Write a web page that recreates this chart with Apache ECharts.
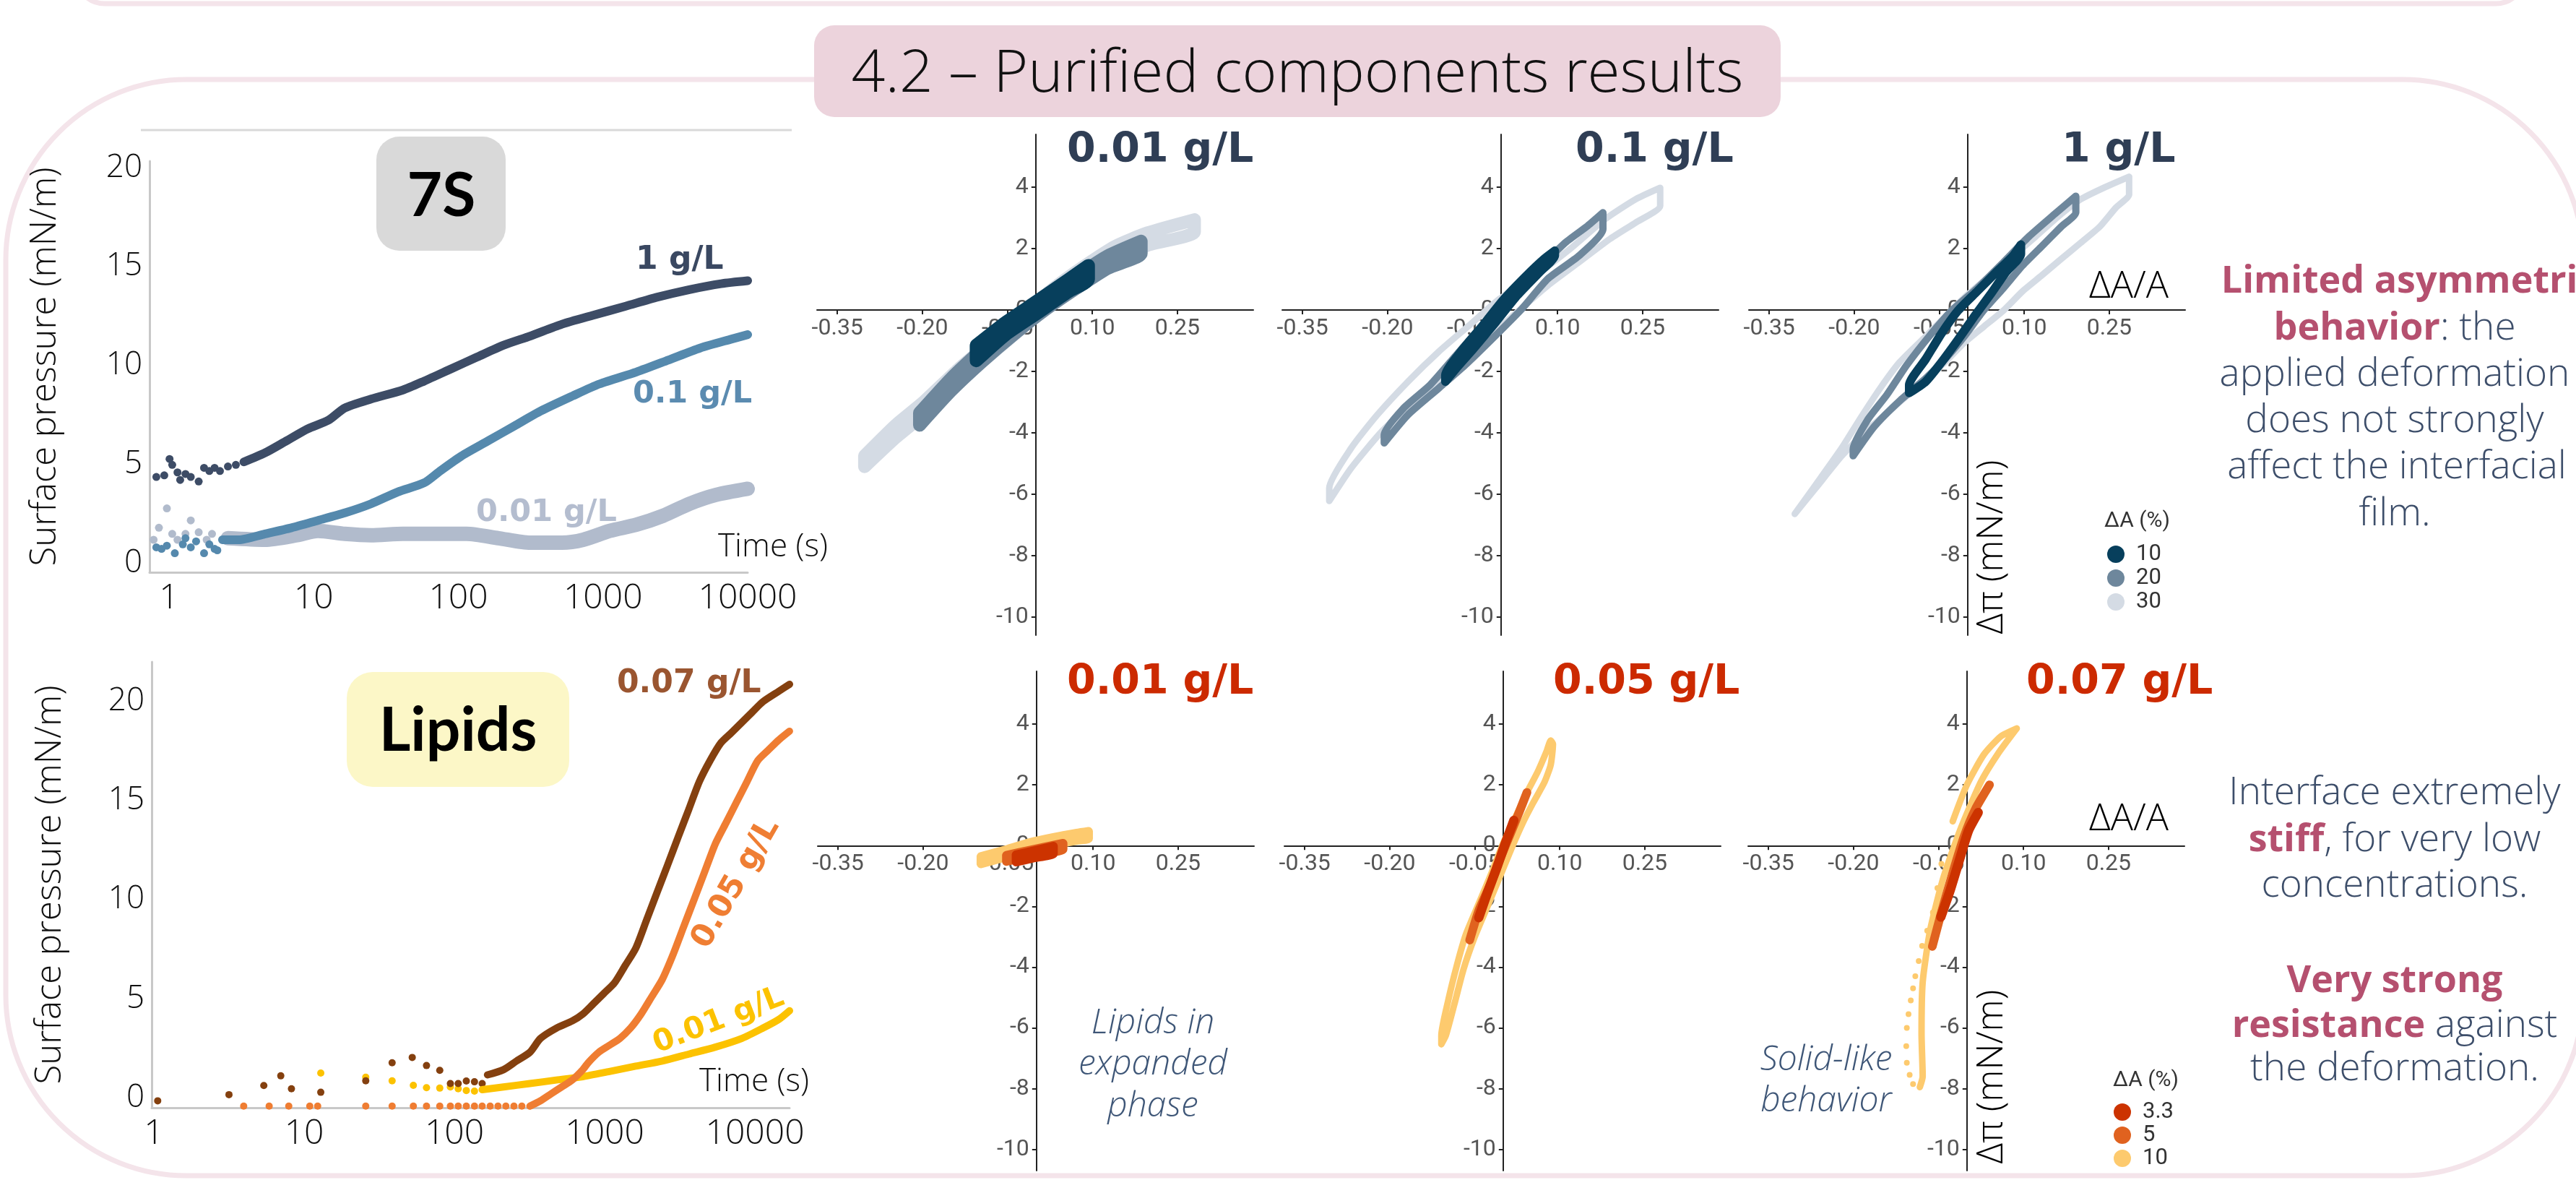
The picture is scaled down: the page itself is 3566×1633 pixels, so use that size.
<!DOCTYPE html>
<html><head><meta charset="utf-8">
<script src="https://cdn.jsdelivr.net/npm/echarts@6/dist/echarts.min.js"></script>
<style>html,body{margin:0;padding:0;background:#fff}#c{width:3566px;height:1633px}</style>
</head><body><div id="c"></div>
<script>
// ---------- tick labels ----------
const timeYTicks = [0, 5, 10, 15, 20];
const lisXTicks = [-0.35, -0.20, -0.05, 0.10, 0.25];
const lisYTicks = [-10, -8, -6, -4, -2, 0, 2, 4];

// ---------- 7S adsorption kinetics: [time (s), surface pressure (mN/m)] ----------
const s7_1g_early = [[0.817,4.35],[0.927,4.43],[1.008,5.26],[1.052,4.96],[1.144,4.58],[1.194,4.20],[1.299,4.50],[1.413,4.35],[1.603,4.12],[1.746,4.81],[1.899,4.65],[2.065,4.81],[2.249,4.65],[2.553,4.88],[2.897,4.96]];
const s7_1g = [[3.29,5.11],[4.61,5.57],[6.46,6.17],[9.06,6.78],[12.7,7.23],[16.4,7.84],[24.9,8.29],[41.4,8.75],[58.0,9.20],[88.5,9.81],[135,10.42],[206,11.02],[314,11.48],[521,12.08],[865,12.54],[1435,12.99],[2382,13.45],[3954,13.83],[6561,14.13],[10000,14.28]];
const s7_01g_early = [[0.817,0.79],[0.888,0.71],[0.966,0.87],[1.096,0.49],[1.245,0.94],[1.299,1.25],[1.413,0.79],[1.538,1.09],[1.746,0.49],[1.899,0.94],[2.065,0.71],[2.156,0.64]];
const s7_01g = [[2.34,1.17],[3.02,1.17],[4.61,1.47],[7.03,1.78],[10.7,2.15],[16.4,2.53],[24.9,2.99],[38.1,3.59],[58.0,4.05],[74.7,4.65],[105,5.41],[160,6.17],[244,6.93],[372,7.69],[617,8.45],[942,9.05],[1700,9.66],[2822,10.26],[4684,10.87],[7773,11.33],[10000,11.55]];
const s7_001g_early = [[0.782,1.17],[0.851,1.78],[0.966,2.76],[1.052,1.47],[1.144,1.17],[1.299,1.47],[1.413,2.15],[1.603,1.55],[1.820,1.17],[1.982,1.47]];
const s7_001g = [[2.55,1.25],[4.61,1.17],[7.65,1.40],[10.7,1.62],[16.4,1.47],[24.9,1.40],[41.4,1.47],[68.7,1.47],[114,1.47],[189,1.25],[314,1.02],[521,1.02],[730,1.17],[1114,1.62],[1700,1.93],[2594,2.38],[3954,2.99],[6034,3.44],[10000,3.75]];

// ---------- Lipids adsorption kinetics ----------
const lip07_early = [[1.06,-0.16],[3.16,0.15],[5.39,0.61],[6.99,1.10],[8.23,0.45],[12.9,0.27],[25.7,0.85],[38.5,1.76],[52.4,2.03],[65.2,1.62],[79.9,1.38],[94.0,0.71],[106,0.71],[120,0.84],[136,0.80],[153,0.71]];
const lip07 = [[166,1.15],[212,1.41],[259,1.85],[318,2.29],[374,2.99],[477,3.51],[608,3.87],[715,4.22],[841,4.74],[990,5.27],[1164,5.80],[1370,6.67],[1611,7.55],[1896,8.95],[2230,10.35],[2624,11.75],[3086,13.16],[3631,14.56],[4270,15.96],[5024,17.01],[5907,17.89],[6950,18.41],[8175,18.94],[9615,19.47],[11300,19.99],[14420,20.52],[17000,20.87]];
const lip05_early = [[3.96,-0.43],[5.85,-0.43],[7.90,-0.43],[10.9,-0.43],[12.3,-0.43],[25.7,-0.43],[38.5,-0.43],[53.3,-0.43],[65.2,-0.43],[79.9,-0.43],[94,-0.43],[106,-0.43],[120,-0.43],[136,-0.43],[153,-0.43],[173,-0.43],[195,-0.43],[220,-0.43],[249,-0.43],[281,-0.43]];
const lip05 = [[318,-0.43],[374,-0.16],[439,0.19],[517,0.54],[608,0.89],[715,1.41],[776,1.76],[913,2.29],[1074,2.64],[1263,2.99],[1486,3.51],[1747,4.22],[2055,5.09],[2418,5.97],[2844,7.20],[3344,8.60],[3935,10.00],[4628,11.40],[5445,12.81],[6407,13.86],[7536,14.91],[8869,15.96],[10430,17.01],[12250,17.54],[14420,18.06],[16980,18.50]];
const lip01_early = [[12.9,1.24],[25.7,1.03],[38.5,0.85],[53.3,0.62],[65.2,0.50],[79.9,0.48],[94,0.54],[106,0.45],[120,0.36],[136,0.33]];
const lip01 = [[153,0.40],[212,0.54],[318,0.71],[477,0.89],[715,1.06],[1074,1.32],[1611,1.59],[2418,1.85],[3631,2.20],[5445,2.55],[8175,2.99],[11300,3.51],[14420,3.95],[17000,4.39]];

// ---------- 7S Lissajous loops: [dA/A, dPi] ----------
const top1_30 = [[-0.302,-4.75],[-0.247,-3.75],[-0.198,-3.00],[-0.136,-1.92],[-0.080,-1.05],[-0.025,-0.19],[0.030,0.68],[0.086,1.43],[0.141,2.08],[0.197,2.51],[0.280,2.94],[0.280,2.54],[0.197,2.11],[0.141,1.68],[0.086,1.03],[0.030,0.28],[-0.025,-0.59],[-0.080,-1.45],[-0.136,-2.32],[-0.198,-3.40],[-0.247,-4.15],[-0.302,-5.10],[-0.302,-4.75]];
const top1_20 = [[-0.205,-3.35],[-0.150,-2.24],[-0.094,-1.27],[-0.039,-0.40],[0.017,0.41],[0.072,1.11],[0.127,1.76],[0.186,2.24],[0.186,1.84],[0.127,1.36],[0.072,0.71],[0.017,0.01],[-0.039,-0.80],[-0.094,-1.67],[-0.150,-2.64],[-0.205,-3.75],[-0.205,-3.35]];
const top1_10 = [[-0.105,-1.15],[-0.053,-0.40],[0.003,0.30],[0.058,1.00],[0.093,1.45],[0.093,1.00],[0.058,0.60],[0.003,-0.10],[-0.053,-0.80],[-0.105,-1.65],[-0.105,-1.15]];
const top2_30 = [[-0.303,-6.22],[-0.303,-5.80],[-0.264,-4.49],[-0.218,-3.41],[-0.164,-2.33],[-0.110,-1.36],[-0.056,-0.50],[-0.002,0.37],[0.060,1.12],[0.122,1.99],[0.184,2.96],[0.238,3.61],[0.281,3.98],[0.281,3.39],[0.238,2.85],[0.192,2.31],[0.138,1.56],[0.083,0.80],[0.029,-0.06],[-0.025,-0.93],[-0.087,-1.90],[-0.148,-2.87],[-0.210,-3.95],[-0.264,-5.14],[-0.303,-6.22]];
const top2_20 = [[-0.206,-4.33],[-0.206,-4.06],[-0.172,-3.20],[-0.125,-2.44],[-0.079,-1.47],[-0.032,-0.50],[0.014,0.37],[0.060,1.23],[0.114,2.20],[0.153,2.74],[0.180,3.17],[0.180,2.63],[0.138,1.77],[0.083,1.02],[0.037,0.04],[-0.009,-0.82],[-0.063,-1.79],[-0.110,-2.55],[-0.164,-3.41],[-0.206,-4.33]];
const top2_10 = [[-0.098,-2.33],[-0.098,-2.12],[-0.071,-1.36],[-0.032,-0.50],[0.006,0.37],[0.045,1.12],[0.076,1.66],[0.095,1.93],[0.095,1.77],[0.068,1.23],[0.029,0.48],[-0.009,-0.39],[-0.048,-1.25],[-0.079,-1.90],[-0.098,-2.33]];
const top3_30 = [[-0.305,-6.64],[-0.268,-5.69],[-0.222,-4.49],[-0.188,-3.49],[-0.154,-2.54],[-0.120,-1.70],[-0.074,-0.86],[-0.040,-0.23],[-0.006,0.40],[0.034,1.03],[0.074,1.66],[0.120,2.39],[0.159,3.03],[0.199,3.60],[0.239,3.97],[0.285,4.34],[0.285,3.76],[0.262,3.34],[0.233,2.71],[0.199,2.18],[0.165,1.66],[0.131,1.13],[0.097,0.61],[0.063,-0.02],[0.028,-0.55],[-0.006,-1.07],[-0.040,-1.70],[-0.085,-2.44],[-0.131,-3.17],[-0.177,-3.91],[-0.222,-4.75],[-0.268,-5.80],[-0.305,-6.64]];
const top3_20 = [[-0.202,-4.75],[-0.202,-4.54],[-0.177,-3.59],[-0.142,-2.75],[-0.108,-1.81],[-0.068,-0.86],[-0.028,-0.02],[0.017,0.71],[0.063,1.55],[0.108,2.39],[0.154,3.13],[0.191,3.71],[0.191,3.18],[0.165,2.71],[0.131,2.08],[0.097,1.45],[0.063,0.71],[0.028,-0.02],[-0.006,-0.86],[-0.040,-1.60],[-0.074,-2.23],[-0.120,-2.96],[-0.165,-3.80],[-0.202,-4.75]];
const top3_10 = [[-0.103,-2.70],[-0.103,-2.44],[-0.074,-1.60],[-0.046,-0.76],[-0.017,-0.02],[0.017,0.61],[0.051,1.24],[0.080,1.76],[0.094,2.13],[0.094,1.82],[0.068,1.24],[0.040,0.50],[0.011,-0.23],[-0.017,-0.97],[-0.046,-1.70],[-0.074,-2.33],[-0.103,-2.70]];

// ---------- Lipid Lissajous loops ----------
const bot1_10 = [[-0.098,-0.36],[-0.053,-0.13],[-0.012,0.10],[0.030,0.27],[0.071,0.41],[0.092,0.47],[0.092,0.23],[0.071,0.17],[0.030,0.03],[-0.012,-0.14],[-0.053,-0.37],[-0.098,-0.60],[-0.098,-0.36]];
const bot1_5 = [[-0.053,-0.32],[-0.012,-0.15],[0.047,0.08],[0.047,-0.12],[-0.012,-0.35],[-0.053,-0.52],[-0.053,-0.32]];
const bot1_33 = [[-0.036,-0.30],[-0.005,-0.17],[0.030,-0.02],[0.030,-0.26],[-0.005,-0.41],[-0.036,-0.54],[-0.036,-0.30]];
const bot2_10 = [[-0.109,-6.54],[-0.109,-6.25],[-0.097,-5.11],[-0.082,-3.97],[-0.066,-2.94],[-0.043,-1.91],[-0.020,-0.88],[-0.001,0.03],[0.022,0.95],[0.042,1.75],[0.061,2.43],[0.077,3.12],[0.084,3.46],[0.088,3.35],[0.084,2.66],[0.073,2.09],[0.053,1.41],[0.034,0.72],[0.015,-0.08],[-0.005,-0.99],[-0.028,-2.02],[-0.051,-3.05],[-0.070,-4.08],[-0.086,-5.22],[-0.101,-6.25],[-0.109,-6.54]];
const bot2_5 = [[-0.059,-3.11],[-0.043,-2.14],[-0.024,-1.34],[-0.005,-0.42],[0.015,0.49],[0.030,1.18],[0.042,1.75]];
const bot2_33 = [[-0.043,-2.37],[-0.028,-1.57],[-0.012,-0.77],[0.003,0.03],[0.019,0.83]];
const bot3_10_dense = [[-0.083,-7.95],[-0.078,-7.60],[-0.080,-6.20],[-0.078,-4.50],[-0.065,-2.80],[-0.042,-1.09],[-0.012,0.51],[0.025,2.11],[0.055,3.03],[0.088,3.86],[0.060,3.60],[0.030,3.00],[0.000,2.00],[-0.025,0.80]];
const bot3_10_sparse = [[-0.045,-0.60],[-0.052,-1.40],[-0.060,-2.20],[-0.070,-2.80],[-0.079,-3.30],[-0.085,-3.80],[-0.091,-4.30],[-0.095,-4.70],[-0.099,-5.10],[-0.103,-5.55],[-0.106,-6.00],[-0.107,-6.60],[-0.106,-7.15],[-0.101,-7.55],[-0.095,-7.85]];
const bot3_5 = [[-0.061,-3.32],[-0.045,-2.20],[-0.025,-0.90],[-0.005,0.30],[0.015,1.20],[0.040,2.00]];
const bot3_33 = [[-0.046,-2.35],[-0.030,-1.50],[-0.012,-0.40],[0.003,0.50],[0.020,1.09]];

// ---------- colours ----------
const C7 = {g1:'#3d4c66', g01:'#5589ad', g001:'#b1bbcc'};
const CL = {g07:'#84400f', g05:'#ef7d32', g01:'#fcc200'};
const CT = {p10:'#073f5c', p20:'#6e879c', p30:'#d4dbe4'};
const CB = {p33:'#cc3300', p5:'#e0621f', p10:'#fdca6e'};
const SANS = '"Open Sans", "Noto Sans", sans-serif';
const NARROW = '"Liberation Sans Narrow", "Roboto", sans-serif';
const BOLD = '"DejaVu Sans", sans-serif';

function fmtLog(v){ const l = Math.log10(v), r = Math.round(l); return Math.abs(l - r) < 1e-6 ? String(Math.round(Math.pow(10, r))) : ''; }

function timeX(i, min, max){
  return {type:'log', gridIndex:i, min, max, logBase:10,
    axisLine:{show:true, onZero:false, lineStyle:{color:'#c8c8c8', width:3}},
    axisTick:{show:false}, splitLine:{show:false},
    axisLabel:{formatter:fmtLog, fontFamily:SANS, fontWeight:300, fontSize:48, color:'#111', margin:12}};
}
function timeY(i, min, max, gap){
  return {type:'value', gridIndex:i, min, max,
    axisLine:{show:true, onZero:false, lineStyle:{color:'#c8c8c8', width:3}},
    axisTick:{show:false}, splitLine:{show:false},
    axisLabel:{customValues:timeYTicks, fontFamily:SANS, fontWeight:300, fontSize:44, color:'#111', margin:10},
    name:'Surface pressure (mN/m)', nameLocation:'middle', nameGap:gap, nameRotate:90,
    nameTextStyle:{fontFamily:SANS, fontWeight:300, fontSize:49, color:'#111'}};
}
// axes cross at zero: shift the axes (line, ticks and labels together) into the grid
function lisX(i, offset){
  return {type:'value', gridIndex:i, min:-0.386, max:0.384, position:'bottom', offset,
    axisLine:{show:true, onZero:false, lineStyle:{color:'#222', width:2}},
    axisTick:{show:true, customValues:lisXTicks, length:6, lineStyle:{color:'#222', width:2}},
    axisLabel:{customValues:lisXTicks, formatter:v=>v.toFixed(2), fontFamily:NARROW, fontSize:32, color:'#555', margin:10},
    splitLine:{show:false}};
}
function lisY(i, min, max){
  return {type:'value', gridIndex:i, min, max, position:'left', offset:-302.8,
    axisLine:{show:true, onZero:false, lineStyle:{color:'#222', width:2}},
    axisTick:{show:true, customValues:lisYTicks, length:6, lineStyle:{color:'#222', width:2}},
    axisLabel:{customValues:lisYTicks, formatter:v=>String(Math.round(v)), fontFamily:NARROW, fontSize:32, color:'#555', margin:10},
    splitLine:{show:false}};
}
function line(i, data, color, width, smooth){
  return {type:'line', xAxisIndex:i, yAxisIndex:i, data, showSymbol:false, symbol:'none', silent:true,
    smooth: smooth === undefined ? 0.25 : smooth, lineStyle:{color, width, join:'round', cap:'round'}};
}
function dots(i, data, color, size){
  return {type:'scatter', xAxisIndex:i, yAxisIndex:i, data, symbolSize:size, silent:true, itemStyle:{color, opacity:1}};
}
function T(text, x, y, o){
  o = o || {};
  const el = {type:'text', x, y, z:50, silent:true, style:{text, fill:o.color || '#111',
    font:(o.style || 'normal') + ' ' + (o.weight || 400) + ' ' + (o.size || 40) + 'px ' + (o.family || SANS),
    align:o.align || 'left', verticalAlign:'middle', textAlign:o.align || 'left', textVerticalAlign:'middle'}};
  if (o.rotation) el.rotation = o.rotation;
  if (o.rich) el.style.rich = o.rich;
  return el;
}

const grids = [
  {left:207, top:223, width:828, height:569},
  {left:210, top:916, width:883, height:617},
  {left:1131, top:186, width:604, height:693},
  {left:1775, top:186, width:604, height:693},
  {left:2421, top:186, width:604, height:693},
  {left:1132, top:929, width:604, height:691},
  {left:1778, top:929, width:604, height:691},
  {left:2420, top:929, width:604, height:691}
];

const xAxes = [timeX(0, 0.733, 10000), timeX(1, 0.967, 17000),
  lisX(2, -450), lisX(3, -450), lisX(4, -450), lisX(5, -449.7), lisX(6, -449.7), lisX(7, -449.7)];
const yAxes = [timeY(0, -0.475, 20.33, 119), timeY(1, -0.51, 22.0, 115),
  lisY(2, -10.59, 5.72), lisY(3, -10.59, 5.72), lisY(4, -10.59, 5.72),
  lisY(5, -10.7, 5.74), lisY(6, -10.7, 5.74), lisY(7, -10.7, 5.74)];

const series = [
  dots(0, s7_001g_early, C7.g001, 11), line(0, s7_001g, C7.g001, 20),
  dots(0, s7_01g_early, C7.g01, 11), line(0, s7_01g, C7.g01, 12),
  dots(0, s7_1g_early, C7.g1, 11), line(0, s7_1g, C7.g1, 12),
  dots(1, lip01_early, CL.g01, 10), line(1, lip01, CL.g01, 10),
  dots(1, lip05_early, CL.g05, 10), line(1, lip05, CL.g05, 10),
  dots(1, lip07_early, CL.g07, 10), line(1, lip07, CL.g07, 10),
  line(2, top1_30, CT.p30, 18, 0.2), line(2, top1_20, CT.p20, 18, 0.2), line(2, top1_10, CT.p10, 18, 0.2),
  line(3, top2_30, CT.p30, 9, 0.2), line(3, top2_20, CT.p20, 10, 0.2), line(3, top2_10, CT.p10, 12, 0.2),
  line(4, top3_30, CT.p30, 9, 0.2), line(4, top3_20, CT.p20, 10, 0.2), line(4, top3_10, CT.p10, 12, 0.2),
  line(5, bot1_10, CB.p10, 12, 0.2), line(5, bot1_5, CB.p5, 12, 0.2), line(5, bot1_33, CB.p33, 12, 0.2),
  line(6, bot2_10, CB.p10, 9, 0.2), line(6, bot2_5, CB.p5, 12, 0.2), line(6, bot2_33, CB.p33, 13, 0.2),
  dots(7, bot3_10_sparse, CB.p10, 8), line(7, bot3_10_dense, CB.p10, 9, 0.2), line(7, bot3_5, CB.p5, 12, 0.2), line(7, bot3_33, CB.p33, 13, 0.2)
];

const PINK = '#b5506f', SLATE = '#3d4e6a';
const bodyRich = {
  b:{fontFamily:SANS, fontWeight:700, fontSize:52, fill:PINK},
  r:{fontFamily:SANS, fontWeight:300, fontSize:53, fill:SLATE}
};
const graphic = [
  {type:'rect', z:-10, silent:true, shape:{x:105, y:-300, width:3390, height:305, r:40}, style:{fill:'rgba(0,0,0,0)', stroke:'#f4e4ea', lineWidth:7}},
  {type:'rect', z:-10, silent:true, shape:{x:8, y:110, width:3568, height:1517, r:250}, style:{fill:'rgba(0,0,0,0)', stroke:'#f4e4ea', lineWidth:7}},
  {type:'rect', z:-5, silent:true, shape:{x:1127, y:35, width:1338, height:127, r:28}, style:{fill:'#ecd3dc'}},
  {type:'line', z:-5, silent:true, shape:{x1:195, y1:180, x2:1096, y2:180}, style:{stroke:'#d9d9d9', lineWidth:3}},
  {type:'rect', z:-5, silent:true, shape:{x:521, y:189, width:179, height:158, r:32}, style:{fill:'#d9d9d9'}},
  {type:'rect', z:-5, silent:true, shape:{x:480, y:930, width:308, height:159, r:36}, style:{fill:'#fcf7c7'}},
  T('4.2 – Purified components results', 1796, 104, {align:'center', size:82, weight:300}),
  T('7S', 611, 272, {align:'center', size:84, weight:700, family:'Lato, sans-serif', color:'#000'}),
  T('Lipids', 634, 1012, {align:'center', size:84, weight:700, family:'Lato, sans-serif', color:'#000'}),
  T('1 g/L', 880, 361, {size:44, weight:700, family:BOLD, color:'#3a4861'}),
  T('0.1 g/L', 876, 546, {size:43, weight:700, family:BOLD, color:'#5b8bb0'}),
  T('0.01 g/L', 659, 710, {size:43, weight:700, family:BOLD, color:'#b4bdcf'}),
  T('Time (s)', 994, 757, {size:44, weight:300}),
  T('0.07 g/L', 854, 947, {size:44, weight:700, family:BOLD, color:'#9a5530'}),
  T('0.05 g/L', 1019, 1223, {align:'center', size:44, weight:700, family:BOLD, color:'#ef7e33', rotation:Math.PI/3}),
  T('0.01 g/L', 995, 1413, {align:'center', size:42, weight:700, family:BOLD, color:'#fcc200', rotation:21*Math.PI/180}),
  T('Time (s)', 968, 1497, {size:44, weight:300}),
  T('0.01 g/L', 1477, 209, {size:57, weight:700, family:BOLD, color:'#2f3e55'}),
  T('0.1 g/L', 2181, 209, {size:57, weight:700, family:BOLD, color:'#2f3e55'}),
  T('1 g/L', 2854, 209, {size:57, weight:700, family:BOLD, color:'#2f3e55'}),
  T('0.01 g/L', 1477, 945, {size:57, weight:700, family:BOLD, color:'#cc2a00'}),
  T('0.05 g/L', 2150, 945, {size:57, weight:700, family:BOLD, color:'#cc2a00'}),
  T('0.07 g/L', 2805, 945, {size:57, weight:700, family:BOLD, color:'#cc2a00'}),
  T('ΔA/A', 2892, 397, {size:52, weight:300, color:'#000'}),
  T('ΔA/A', 2892, 1134, {size:52, weight:300, color:'#000'}),
  T('Δπ (mN/m)', 2758, 757, {align:'center', size:50, weight:300, color:'#000', rotation:Math.PI/2}),
  T('Δπ (mN/m)', 2758, 1490, {align:'center', size:50, weight:300, color:'#000', rotation:Math.PI/2}),
  T('ΔA (%)', 2913, 721, {size:30, family:NARROW, color:'#333'}),
  {type:'circle', z:50, silent:true, shape:{cx:2929, cy:767, r:12}, style:{fill:CT.p10}},
  {type:'circle', z:50, silent:true, shape:{cx:2929, cy:800, r:12}, style:{fill:CT.p20}},
  {type:'circle', z:50, silent:true, shape:{cx:2929, cy:833, r:12}, style:{fill:CT.p30}},
  T('10', 2957, 767, {size:31, family:NARROW, color:'#333'}),
  T('20', 2957, 800, {size:31, family:NARROW, color:'#333'}),
  T('30', 2957, 833, {size:31, family:NARROW, color:'#333'}),
  T('ΔA (%)', 2925, 1495, {size:30, family:NARROW, color:'#333'}),
  {type:'circle', z:50, silent:true, shape:{cx:2938, cy:1539, r:12}, style:{fill:CB.p33}},
  {type:'circle', z:50, silent:true, shape:{cx:2938, cy:1571, r:12}, style:{fill:CB.p5}},
  {type:'circle', z:50, silent:true, shape:{cx:2938, cy:1603, r:12}, style:{fill:CB.p10}},
  T('3.3', 2966, 1539, {size:31, family:NARROW, color:'#333'}),
  T('5', 2966, 1571, {size:31, family:NARROW, color:'#333'}),
  T('10', 2966, 1603, {size:31, family:NARROW, color:'#333'}),
  T('Lipids in', 1596, 1416, {align:'center', size:48, weight:300, style:'italic', color:'#3e5677'}),
  T('expanded', 1596, 1473, {align:'center', size:48, weight:300, style:'italic', color:'#3e5677'}),
  T('phase', 1596, 1531, {align:'center', size:48, weight:300, style:'italic', color:'#3e5677'}),
  T('Solid-like', 2528, 1467, {align:'center', size:48, weight:300, style:'italic', color:'#3e5677'}),
  T('behavior', 2528, 1524, {align:'center', size:48, weight:300, style:'italic', color:'#3e5677'}),
  T('{b|Limited asymmetric}', 3335, 390, {align:'center', size:52, rich:bodyRich}),
  T('{b|behavior}{r|: the}', 3315, 455, {align:'center', size:52, rich:bodyRich}),
  T('{r|applied deformation}', 3315, 519, {align:'center', size:52, rich:bodyRich}),
  T('{r|does not strongly}', 3315, 583, {align:'center', size:52, rich:bodyRich}),
  T('{r|affect the interfacial}', 3318, 647, {align:'center', size:52, rich:bodyRich}),
  T('{r|film.}', 3315, 712, {align:'center', size:52, rich:bodyRich}),
  T('{r|Interface extremely}', 3315, 1098, {align:'center', size:52, rich:bodyRich}),
  T('{b|stiff}{r|, for very low}', 3315, 1163, {align:'center', size:52, rich:bodyRich}),
  T('{r|concentrations.}', 3315, 1226, {align:'center', size:52, rich:bodyRich}),
  T('{b|Very strong}', 3315, 1358, {align:'center', size:52, rich:bodyRich}),
  T('{b|resistance}{r| against}', 3315, 1420, {align:'center', size:52, rich:bodyRich}),
  T('{r|the deformation.}', 3315, 1480, {align:'center', size:52, rich:bodyRich})
];

const chart = echarts.init(document.getElementById('c'), null, {renderer:'canvas', width:3566, height:1633});
chart.setOption({
  backgroundColor:'#ffffff',
  animation:false,
  grid:grids,
  xAxis:xAxes,
  yAxis:yAxes,
  series:series,
  graphic:graphic
});
</script>
</body></html>
